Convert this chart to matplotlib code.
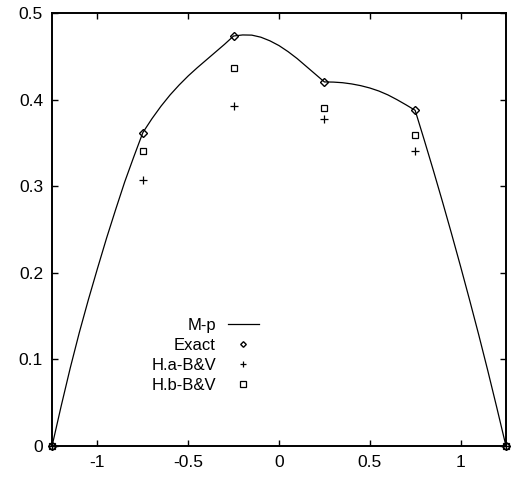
import numpy as np
import matplotlib
matplotlib.use("Agg")
import matplotlib.pyplot as plt

plt.rcParams['font.family'] = ['Liberation Sans', 'DejaVu Sans']

# M-p curve (element by element)
mp_x = [-1.25, -1.20, -1.15, -1.10, -1.05, -1.00, -0.95, -0.90, -0.85, -0.80,
        -0.75, -0.70, -0.65, -0.60, -0.55, -0.50, -0.45, -0.40, -0.35, -0.30,
        -0.25, -0.20, -0.15, -0.10, -0.05, 0.0, 0.05, 0.10, 0.15, 0.20,
        0.25, 0.30, 0.35, 0.40, 0.45, 0.50, 0.55, 0.60, 0.65, 0.70,
        0.75, 0.80, 0.85, 0.90, 0.95, 1.00, 1.05, 1.10, 1.15, 1.20, 1.25]
mp_y = [0.0, 0.046, 0.090, 0.131, 0.169, 0.205, 0.240, 0.273, 0.305, 0.334,
        0.362, 0.378, 0.3925, 0.4055, 0.417, 0.4275, 0.437, 0.446, 0.455, 0.464,
        0.4736, 0.4748, 0.4746, 0.4722, 0.468, 0.4625, 0.4555, 0.4475, 0.4385, 0.4295,
        0.4205, 0.4203, 0.4196, 0.4182, 0.4162, 0.4135, 0.410, 0.4055, 0.400, 0.394,
        0.3877, 0.3535, 0.3185, 0.2825, 0.2455, 0.2075, 0.1685, 0.1285, 0.087, 0.044, 0.0]

# nodal values
node_x = [-1.25, -0.75, -0.25, 0.25, 0.75, 1.25]
exact_y = [0.0, 0.362, 0.4736, 0.4205, 0.3877, 0.0]
ha_y = [0.0, 0.307, 0.3927, 0.3777, 0.341, 0.0]
hb_y = [0.0, 0.341, 0.4363, 0.3908, 0.3595, 0.0]

fig = plt.figure(figsize=(5.11, 4.78), dpi=100)
ax = fig.add_axes([0.102, 0.0675, 0.888, 0.905])

ax.plot(mp_x, mp_y, color='black', lw=0.9, label='M-p')
ax.plot(node_x, exact_y, ls='none', marker='D', ms=3.8, mfc='none', mec='black', mew=1.0,
        label='Exact', clip_on=False)
ax.plot(node_x, ha_y, ls='none', marker='+', ms=6, mec='black', mew=0.9,
        label='H.a-B&V', clip_on=False)
ax.plot(node_x, hb_y, ls='none', marker='s', ms=5, mfc='none', mec='black', mew=0.9,
        label='H.b-B&V', clip_on=False)

ax.set_xlim(-1.25, 1.25)
ax.set_ylim(0, 0.5)
ax.set_xticks([-1, -0.5, 0, 0.5, 1])
ax.set_xticklabels(['-1', '-0.5', '0', '0.5', '1'])
ax.set_yticks([0, 0.1, 0.2, 0.3, 0.4, 0.5])
ax.set_yticklabels(['0', '0.1', '0.2', '0.3', '0.4', '0.5'])
ax.tick_params(direction='in', length=4.5, width=1, top=True, right=True,
               labelsize=12.5, pad=6.5)
for s in ax.spines.values():
    s.set_linewidth(1.4)

leg = ax.legend(loc='upper left', bbox_to_anchor=(0.20, 0.315), frameon=False,
                markerfirst=False, fontsize=12, handlelength=1.9,
                handletextpad=0.7, labelspacing=0.3, borderpad=0, markerscale=0.75)

fig.savefig('out.png', dpi=100)
